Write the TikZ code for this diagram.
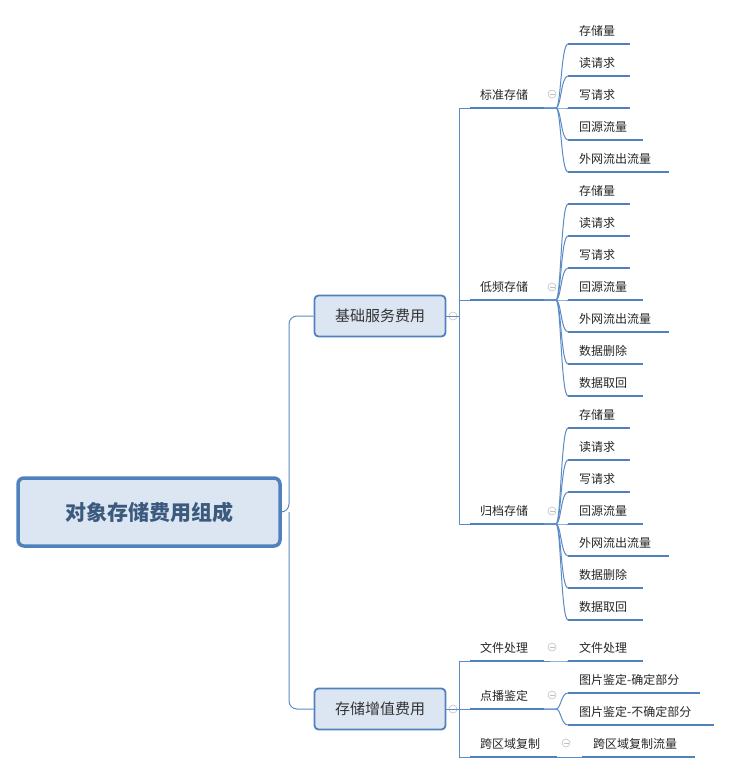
\documentclass[tikz,border=0pt]{standalone}
\usepackage{fontspec}
\setmainfont{Noto Sans CJK SC}
\begin{document}
\begin{tikzpicture}[x=1pt,y=-1pt,
  line/.style={draw=lblue,line width=1pt},
  uline/.style={draw=ublue,line width=2.6pt},
  lvone/.style={draw=ublue,fill=boxfill,line width=1.8pt,rounded corners=4pt,minimum width=131pt,minimum height=41pt,font=\fontsize{15}{18}\selectfont,text=black!80},
  rootbox/.style={draw=ublue,fill=boxfill,line width=3.5pt,rounded corners=6pt,minimum width=262pt,minimum height=68pt,font=\fontsize{21}{25}\selectfont\bfseries,text=rootblue},
  txt/.style={font=\fontsize{12}{14}\selectfont,text=black!85,inner sep=0pt},
  coll/.style={draw=gray!50,line width=0.6pt,circle,minimum size=8pt,inner sep=0pt}]
\definecolor{lblue}{HTML}{5B8BC7}
\definecolor{ublue}{HTML}{4F81BD}
\definecolor{boxfill}{HTML}{DCE6F2}
\definecolor{rootblue}{HTML}{3B5A7E}
\useasboundingbox (0,0) rectangle (732,774);
\newcommand{\collapse}[2]{\node[coll] at (#1,#2) {}; \draw[gray!50,line width=0.6pt] (#1-2.5,#2) -- (#1+2.5,#2);}
% leaf: name, x, y, width, textoffset, text
\newcommand{\leafnode}[6]{\coordinate (#1) at (#2,#3); \draw[uline] (#1) -- ++(#4,0) coordinate (#1e); \node[txt,anchor=base west] (#1t) at (#2+#5,#3-9) {#6};}
\node[rootbox] (root) at (149,512) {对象存储费用组成};
\node[lvone] (b1) at (380,316) {基础服务费用};
\node[lvone] (b2) at (380,709) {存储增值费用};
\draw[line,rounded corners=8pt] (root.east) -- (289,512) |- (b1.west);
\draw[line,rounded corners=8pt] (289,512) |- (b2.west);
\collapse{453}{316}\collapse{453}{709}
% level 2
\foreach \n/\y/\t in {s/108/标准存储,d/300/低频存储,g/524/归档存储,f/661/文件处理,v/709/点播鉴定}{
  \leafnode{\n}{470}{\y}{74}{10}{\t}
}
\leafnode{k}{470}{757}{87}{10}{跨区域复制}
\draw[line] (b1.east) -- (459,316);
\draw[line] (s) -| (459,524) -- (g);
\draw[line] (d) -- (459,300);
\draw[line] (b2.east) -- (459,709);
\draw[line] (f) -| (459,757) -- (k);
\draw[line] (v) -- (459,709);
\collapse{552}{94}\collapse{552}{287}\collapse{552}{511}\collapse{552}{647}\collapse{552}{695}\collapse{566}{743}
% level 3 groups
\newcommand{\branch}[3]{\draw[line] (#1e) -- (556,#2) .. controls (561,#2) and (561,#3) .. (568,#3);}
\def\g{标准存储}
\foreach \i/\t/\w in {0/存储量/62,1/读请求/62,2/写请求/62,3/回源流量/75,4/外网流出流量/101}{
  \pgfmathtruncatemacro{\yy}{44+32*\i}
  \leafnode{sa\i}{568}{\yy}{\w}{11}{\t}
  \branch{s}{108}{\yy}
}
\foreach \base/\nm/\p/\py in {204/da/d/300,428/ga/g/524}{
\foreach \i/\t/\w in {0/存储量/62,1/读请求/62,2/写请求/62,3/回源流量/75,4/外网流出流量/101,5/数据删除/75,6/数据取回/75}{
  \pgfmathtruncatemacro{\yy}{\base+32*\i}
  \leafnode{\nm\i}{568}{\yy}{\w}{11}{\t}
  \branch{\p}{\py}{\yy}
}}
\leafnode{fa}{568}{661}{75}{11}{文件处理}
\branch{f}{661}{661}
\leafnode{va}{568}{693}{132}{11}{图片鉴定-确定部分}
\branch{v}{709}{693}
\leafnode{vb}{568}{725}{146}{11}{图片鉴定-不确定部分}
\branch{v}{709}{725}
\leafnode{ka}{582}{757}{113}{11}{跨区域复制流量}
\draw[line] (ke) -- (ka);
\end{tikzpicture}
\end{document}
